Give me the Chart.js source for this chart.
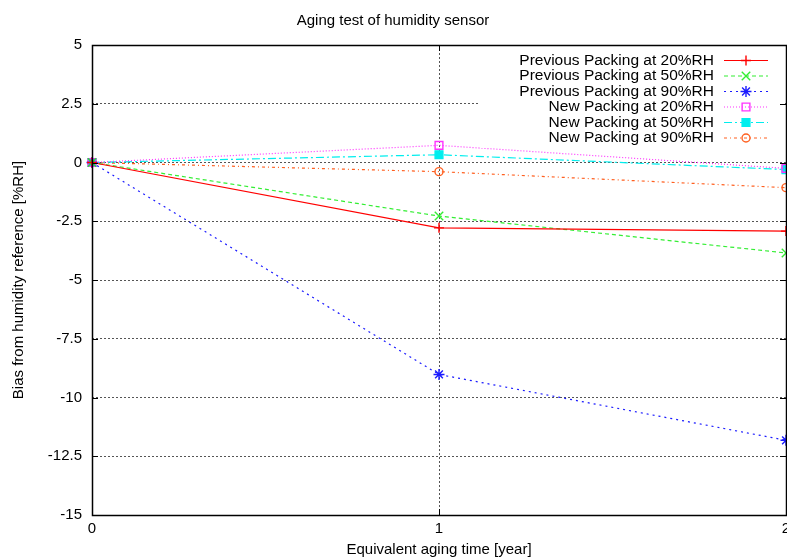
<!DOCTYPE html>
<html>
<head>
    <meta charset="utf-8">
    <title>Aging test of humidity sensor</title>
    <script src="https://cdn.jsdelivr.net/npm/chart.js"></script>
    <style>
        body {
            margin: 0;
            background-color: #ffffff;
        }
        #myChart {
            display: block;
        }
    </style>
</head>
<body>
    <canvas id="myChart" width="787" height="560"></canvas>
    <script>
        // data
        var years = [0, 1, 2];
        var prev20 = [0, -2.78, -2.92];
        var prev50 = [0, -2.28, -3.85];
        var prev90 = [0, -9.02, -11.82];
        var new20 = [0, 0.73, -0.25];
        var new50 = [0, 0.33, -0.3];
        var new90 = [0, -0.39, -1.07];

        var xTicks = [0, 1, 2];
        var yTicks = [5, 2.5, 0, -2.5, -5, -7.5, -10, -12.5, -15];

        var font15 = { size: 15, weight: 'normal' };
        var gridColor = '#555555';

        Chart.defaults.font.family = '"Liberation Sans", Arial, Helvetica, sans-serif';
        Chart.defaults.color = '#000000';

        function pts(values) {
            return years.map(function (x, i) { return { x: x, y: values[i] }; });
        }

        function makeSet(label, values, color, dash, style, radius, filled) {
            return {
                label: label,
                data: pts(values),
                borderColor: color,
                backgroundColor: color,
                borderWidth: 1.2,
                borderDash: dash,
                pointStyle: style,
                pointRadius: radius,
                pointBorderColor: color,
                pointBackgroundColor: filled ? color : 'rgba(0,0,0,0)',
                pointBorderWidth: 1.4,
                tension: 0,
                clip: false
            };
        }

        // gnuplot style key in the top right corner, on a white box
        var keyPlugin = {
            id: 'gnukey',
            afterDraw: function (chart) {
                var ctx = chart.ctx;
                var area = chart.chartArea;
                ctx.save();
                ctx.fillStyle = '#ffffff';
                ctx.fillRect(area.left + 388, area.top + 1, area.right - area.left - 389, 102);
                ctx.font = '15.5px "Liberation Sans", Arial, sans-serif';
                ctx.textAlign = 'right';
                ctx.textBaseline = 'middle';
                chart.data.datasets.forEach(function (ds, i) {
                    var y = area.top + 15.5 + i * 15.5;
                    ctx.fillStyle = '#000000';
                    ctx.fillText(ds.label, area.right - 72, y);
                    ctx.strokeStyle = ds.borderColor;
                    ctx.lineWidth = ds.borderWidth;
                    ctx.setLineDash(ds.borderDash || []);
                    ctx.beginPath();
                    ctx.moveTo(area.right - 62, y);
                    ctx.lineTo(area.right - 18, y);
                    ctx.stroke();
                    ctx.setLineDash([]);
                    ctx.fillStyle = ds.pointBackgroundColor;
                    ctx.lineWidth = ds.pointBorderWidth;
                    Chart.helpers.drawPoint(ctx, {
                        pointStyle: ds.pointStyle,
                        radius: ds.pointRadius,
                        rotation: 0,
                        borderWidth: ds.pointBorderWidth
                    }, area.right - 40, y);
                });
                ctx.restore();
            }
        };

        // border box with inward ticks on all four sides
        var boxPlugin = {
            id: 'gnubox',
            afterDraw: function (chart) {
                var ctx = chart.ctx;
                var a = chart.chartArea;
                var xs = chart.scales.x;
                var ys = chart.scales.y;
                ctx.save();
                ctx.strokeStyle = '#000000';
                ctx.lineWidth = 1;
                ctx.setLineDash([]);
                ctx.beginPath();
                xTicks.forEach(function (v) {
                    var px = Math.round(xs.getPixelForValue(v)) + 0.5;
                    ctx.moveTo(px, a.bottom); ctx.lineTo(px, a.bottom - 6);
                    ctx.moveTo(px, a.top); ctx.lineTo(px, a.top + 6);
                });
                yTicks.forEach(function (v) {
                    var py = Math.round(ys.getPixelForValue(v)) + 0.5;
                    ctx.moveTo(a.left, py); ctx.lineTo(a.left + 6, py);
                    ctx.moveTo(a.right, py); ctx.lineTo(a.right - 6, py);
                });
                ctx.stroke();
                ctx.lineWidth = 1.5;
                ctx.strokeRect(Math.round(a.left) + 0.5, Math.round(a.top) + 0.5,
                    Math.round(a.right - a.left), Math.round(a.bottom - a.top));
                ctx.restore();
            }
        };

        var ctx = document.getElementById('myChart').getContext('2d');
        var chart = new Chart(ctx, {
            type: 'line',
            data: {
                datasets: [
                    makeSet('Previous Packing at 20%RH', prev20, '#ff0000', [], 'cross', 5, false),
                    makeSet('Previous Packing at 50%RH', prev50, '#33ee33', [4, 3], 'crossRot', 6, false),
                    makeSet('Previous Packing at 90%RH', prev90, '#1a1aff', [2, 4], 'star', 5.5, false),
                    makeSet('New Packing at 20%RH', new20, '#ff33ff', [1, 2], 'rect', 5.5, false),
                    makeSet('New Packing at 50%RH', new50, '#00eeee', [8, 3, 2, 3], 'rect', 5.5, true),
                    makeSet('New Packing at 90%RH', new90, '#ff6020', [3, 3, 1, 3], 'circle', 4, false)
                ]
            },
            options: {
                responsive: false,
                animation: false,
                events: [],
                layout: { autoPadding: false, padding: { left: 0, right: 1, top: 0, bottom: 0 } },
                plugins: {
                    legend: { display: false },
                    tooltip: { enabled: false },
                    title: {
                        display: true,
                        text: 'Aging test of humidity sensor',
                        color: '#000000',
                        font: font15,
                        padding: { top: 12, bottom: 15 }
                    }
                },
                scales: {
                    x: {
                        type: 'linear',
                        min: 0,
                        max: 2,
                        afterBuildTicks: function (s) {
                            s.ticks = xTicks.map(function (v) { return { value: v }; });
                        },
                        afterFit: function (s) {
                            s.height = 45;
                            s.paddingLeft = 0;
                            s.paddingRight = 0;
                        },
                        ticks: { color: '#000000', font: font15, padding: 5, maxRotation: 0, autoSkip: false },
                        grid: {
                            drawTicks: false,
                            lineWidth: 1,
                            color: function (c) {
                                return c.tick && c.tick.value === 1 ? gridColor : 'rgba(0,0,0,0)';
                            }
                        },
                        border: { display: false, dash: [2, 2] },
                        title: {
                            display: true,
                            text: 'Equivalent aging time [year]',
                            color: '#000000',
                            font: font15,
                            padding: { top: 0, bottom: 1 }
                        }
                    },
                    y: {
                        min: -15,
                        max: 5,
                        afterBuildTicks: function (s) {
                            s.ticks = yTicks.map(function (v) { return { value: v }; });
                        },
                        afterFit: function (s) {
                            s.width = 92;
                            s.paddingTop = 0;
                            s.paddingBottom = 0;
                        },
                        ticks: { color: '#000000', font: font15, padding: 10, autoSkip: false },
                        grid: {
                            drawTicks: false,
                            lineWidth: 1,
                            color: function (c) {
                                var v = c.tick ? c.tick.value : null;
                                return (v === 5 || v === -15) ? 'rgba(0,0,0,0)' : gridColor;
                            }
                        },
                        border: { display: false, dash: [2, 2] },
                        title: {
                            display: true,
                            text: 'Bias from humidity reference [%RH]',
                            color: '#000000',
                            font: font15,
                            padding: { top: 10, bottom: 0 }
                        }
                    }
                }
            },
            plugins: [keyPlugin, boxPlugin]
        });
    </script>
</body>
</html>
